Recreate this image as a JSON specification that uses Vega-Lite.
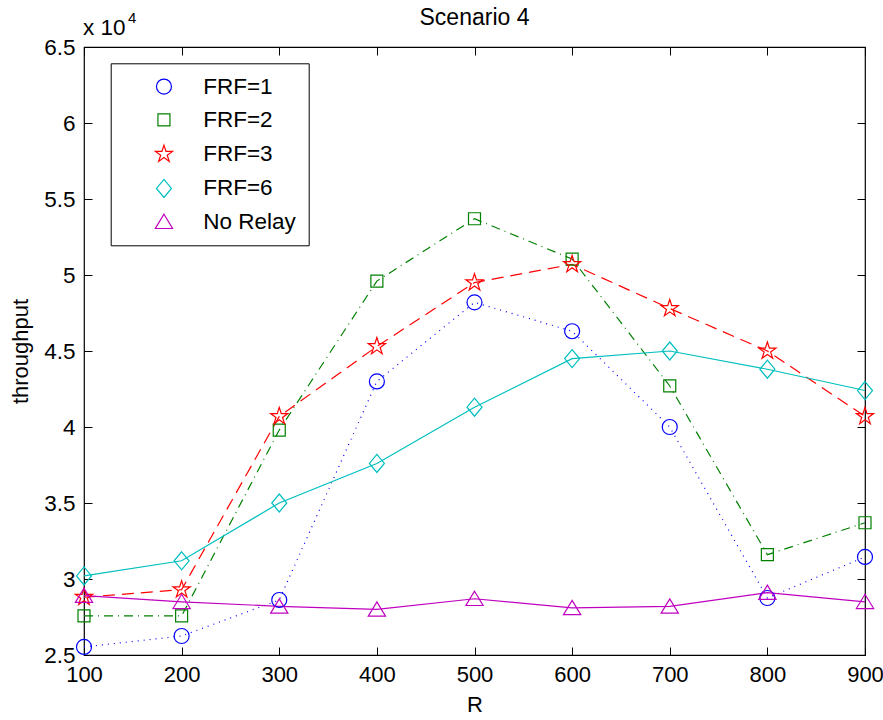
{
  "$schema": "https://vega.github.io/schema/vega-lite/v6.json",
  "width": 781,
  "height": 608,
  "autosize": {"type": "none"},
  "padding": {"left": 84, "top": 47, "right": 18, "bottom": 65},
  "background": "white",
  "config": {
    "font": "Liberation Sans",
    "view": {"stroke": "black", "strokeWidth": 1.2},
    "axis": {"domainColor": "black", "tickColor": "black", "labelColor": "black", "titleColor": "black", "grid": false, "labelFont": "Liberation Sans", "titleFont": "Liberation Sans"},
    "legend": {"title": null, "orient": "none", "legendX": 26.7, "legendY": 16.3, "fillColor": "white", "strokeColor": "black", "padding": 12, "labelFontSize": 22.5, "labelFont": "Liberation Sans", "labelColor": "black", "rowPadding": 10.3, "symbolOffset": 30, "labelOffset": 28, "symbolSize": 225, "symbolStrokeWidth": 1.2}
  },
  "title": {"text": "Scenario 4", "fontSize": 23, "fontWeight": "normal", "font": "Liberation Sans", "color": "black", "offset": -19},
  "datasets": {
    "main": [
      {"R": 100, "series": "FRF=1", "throughput": 25530},
      {"R": 200, "series": "FRF=1", "throughput": 26250},
      {"R": 300, "series": "FRF=1", "throughput": 28620},
      {"R": 400, "series": "FRF=1", "throughput": 43000},
      {"R": 500, "series": "FRF=1", "throughput": 48200},
      {"R": 600, "series": "FRF=1", "throughput": 46300},
      {"R": 700, "series": "FRF=1", "throughput": 40000},
      {"R": 800, "series": "FRF=1", "throughput": 28750},
      {"R": 900, "series": "FRF=1", "throughput": 31450},
      {"R": 100, "series": "FRF=2", "throughput": 27570},
      {"R": 200, "series": "FRF=2", "throughput": 27570},
      {"R": 300, "series": "FRF=2", "throughput": 39800},
      {"R": 400, "series": "FRF=2", "throughput": 49600},
      {"R": 500, "series": "FRF=2", "throughput": 53700},
      {"R": 600, "series": "FRF=2", "throughput": 51050},
      {"R": 700, "series": "FRF=2", "throughput": 42700},
      {"R": 800, "series": "FRF=2", "throughput": 31600},
      {"R": 900, "series": "FRF=2", "throughput": 33700},
      {"R": 100, "series": "FRF=3", "throughput": 28800},
      {"R": 200, "series": "FRF=3", "throughput": 29300},
      {"R": 300, "series": "FRF=3", "throughput": 40700},
      {"R": 400, "series": "FRF=3", "throughput": 45300},
      {"R": 500, "series": "FRF=3", "throughput": 49500},
      {"R": 600, "series": "FRF=3", "throughput": 50700},
      {"R": 700, "series": "FRF=3", "throughput": 47800},
      {"R": 800, "series": "FRF=3", "throughput": 45000},
      {"R": 900, "series": "FRF=3", "throughput": 40700},
      {"R": 100, "series": "FRF=6", "throughput": 30200},
      {"R": 200, "series": "FRF=6", "throughput": 31200},
      {"R": 300, "series": "FRF=6", "throughput": 35000},
      {"R": 400, "series": "FRF=6", "throughput": 37600},
      {"R": 500, "series": "FRF=6", "throughput": 41300},
      {"R": 600, "series": "FRF=6", "throughput": 44500},
      {"R": 700, "series": "FRF=6", "throughput": 45000},
      {"R": 800, "series": "FRF=6", "throughput": 43800},
      {"R": 900, "series": "FRF=6", "throughput": 42400},
      {"R": 100, "series": "No Relay", "throughput": 28900},
      {"R": 200, "series": "No Relay", "throughput": 28500},
      {"R": 300, "series": "No Relay", "throughput": 28200},
      {"R": 400, "series": "No Relay", "throughput": 28000},
      {"R": 500, "series": "No Relay", "throughput": 28700},
      {"R": 600, "series": "No Relay", "throughput": 28100},
      {"R": 700, "series": "No Relay", "throughput": 28200},
      {"R": 800, "series": "No Relay", "throughput": 29100},
      {"R": 900, "series": "No Relay", "throughput": 28500}
    ],
    "note": [
      {"R": 100, "throughput": 65000, "label": "x 10"}
    ]
  },
  "layer": [
    {
      "layer": [
        {
          "data": {"name": "main"},
          "transform": [{"filter": "datum.series === 'FRF=1'"}],
          "mark": {"type": "line", "strokeWidth": 1.2, "strokeDash": [1, 5]},
          "encoding": {
            "x": {"field": "R", "type": "quantitative", "scale": {"domain": [100, 900], "nice": false, "zero": false},
              "axis": {"title": "R", "titleFontSize": 22, "titleFontWeight": "normal", "titlePadding": 9, "values": [100,200,300,400,500,600,700,800,900], "labelFontSize": 22, "tickSize": -8, "labelPadding": 17, "domain": false, "labelFlush": false}},
            "y": {"field": "throughput", "type": "quantitative", "scale": {"domain": [25000, 65000], "nice": false, "zero": false},
              "axis": {"title": "throughput", "titleFontSize": 22, "titleFontWeight": "normal", "titlePadding": 11, "values": [25000,30000,35000,40000,45000,50000,55000,60000,65000], "labelExpr": "format(datum.value/10000, '~g')", "labelFontSize": 22.5, "tickSize": -8, "labelPadding": 17, "domain": false, "labelFlush": false}},
            "color": {"field": "series", "type": "nominal", "scale": {"domain": ["FRF=1","FRF=2","FRF=3","FRF=6","No Relay"], "range": ["#0000ff","#008000","#ff0000","#00bfbf","#bf00bf"]}}
          }
        },
        {
          "data": {"name": "main"},
          "transform": [{"filter": "datum.series === 'FRF=2'"}],
          "mark": {"type": "line", "strokeWidth": 1.2, "strokeDash": [9, 5, 1, 5]},
          "encoding": {
            "x": {"field": "R", "type": "quantitative"},
            "y": {"field": "throughput", "type": "quantitative"},
            "color": {"field": "series", "type": "nominal"}
          }
        },
        {
          "data": {"name": "main"},
          "transform": [{"filter": "datum.series === 'FRF=3'"}],
          "mark": {"type": "line", "strokeWidth": 1.2, "strokeDash": [12, 7]},
          "encoding": {
            "x": {"field": "R", "type": "quantitative"},
            "y": {"field": "throughput", "type": "quantitative"},
            "color": {"field": "series", "type": "nominal"}
          }
        },
        {
          "data": {"name": "main"},
          "transform": [{"filter": "datum.series === 'FRF=6' || datum.series === 'No Relay'"}],
          "mark": {"type": "line", "strokeWidth": 1.2},
          "encoding": {
            "x": {"field": "R", "type": "quantitative"},
            "y": {"field": "throughput", "type": "quantitative"},
            "color": {"field": "series", "type": "nominal"}
          }
        },
        {
          "data": {"name": "main"},
          "mark": {"type": "point", "filled": false, "strokeWidth": 1.2, "opacity": 1, "size": 225},
          "encoding": {
            "x": {"field": "R", "type": "quantitative"},
            "y": {"field": "throughput", "type": "quantitative"},
            "color": {"field": "series", "type": "nominal"},
            "shape": {"field": "series", "type": "nominal", "scale": {"domain": ["FRF=1","FRF=2","FRF=3","FRF=6","No Relay"], "range": ["M1,0A1,1,0,1,1,-1,0A1,1,0,1,1,1,0Z","M-0.8,-0.8H0.8V0.8H-0.8Z","M0,-1.2L0.269,-0.371L1.141,-0.371L0.436,0.142L0.706,0.971L0,0.458L-0.706,0.971L-0.436,0.142L-1.141,-0.371L-0.269,-0.371Z","M0,-1.2L1,0L0,1.2L-1,0Z","M0,-1L1.15,0.9L-1.15,0.9Z"]}}
          }
        },
        {
          "data": {"name": "note"},
          "mark": {"type": "text", "align": "left", "baseline": "alphabetic", "dx": -1, "dy": -12, "fontSize": 22.5, "font": "Liberation Sans", "color": "black"},
          "encoding": {
            "x": {"field": "R", "type": "quantitative"},
            "y": {"field": "throughput", "type": "quantitative"},
            "text": {"field": "label"}
          }
        },
        {
          "data": {"name": "note"},
          "mark": {"type": "text", "align": "left", "baseline": "alphabetic", "dx": 44, "dy": -24, "fontSize": 15, "font": "Liberation Sans", "color": "black"},
          "encoding": {
            "x": {"field": "R", "type": "quantitative"},
            "y": {"field": "throughput", "type": "quantitative"},
            "text": {"value": "4"}
          }
        }
      ]
    },
    {
      "data": {"name": "note"},
      "mark": {"type": "text", "text": ""},
      "encoding": {
        "x": {"field": "R", "type": "quantitative", "axis": {"orient": "top", "title": null, "labels": false, "values": [100,200,300,400,500,600,700,800,900], "tickSize": -8, "domain": false}},
        "y": {"field": "throughput", "type": "quantitative", "axis": {"orient": "right", "title": null, "labels": false, "values": [25000,30000,35000,40000,45000,50000,55000,60000,65000], "tickSize": -8, "domain": false}}
      }
    }
  ],
  "resolve": {"axis": {"x": "independent", "y": "independent"}}
}
